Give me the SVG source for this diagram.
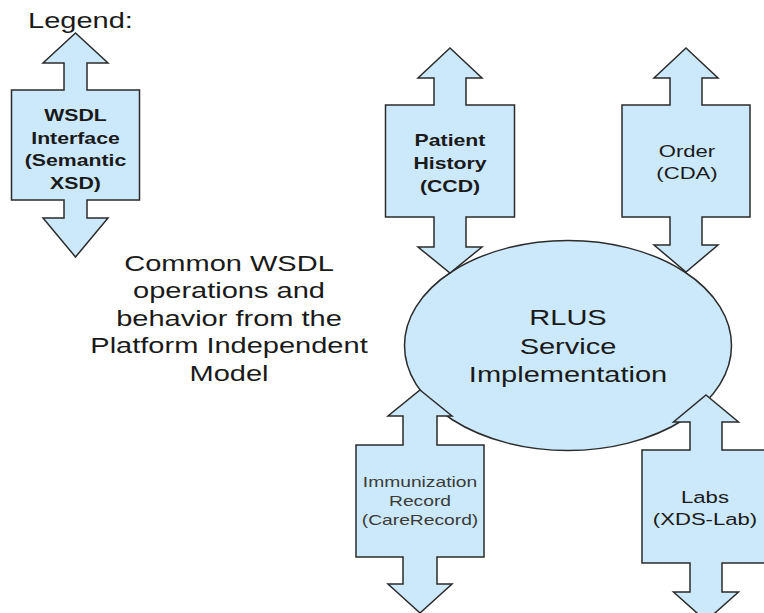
<svg xmlns="http://www.w3.org/2000/svg" width="764" height="613" viewBox="0 0 764 613">
<style>
.shape{fill:#cce9fb;stroke:#2b2b2b;stroke-width:1.5;stroke-linejoin:miter}
.big{font-family:"Liberation Sans",Arial,sans-serif;font-size:22.5px;fill:#1a1a1a;text-anchor:middle}
.lbl{font-family:"Liberation Sans",Arial,sans-serif;font-size:17px;fill:#1a1a1a;text-anchor:middle}
.bold{font-weight:bold}
.sm{font-family:"Liberation Sans",Arial,sans-serif;font-size:14.8px;fill:#3a3a3a;text-anchor:middle}
</style>
<rect width="764" height="613" fill="#ffffff"/>
<g id="legend-title" transform="translate(28,0) scale(1.29,1)"><text class="big" x="0" y="28" style="text-anchor:start">Legend:</text></g>
<g id="legend">
<path class="shape" d="M75.5,33 L108,63 L87,63 L87,90 L139.5,90 L139.5,200 L87,200 L87,218 L108,218 L75.5,257 L43,218 L64,218 L64,200 L11.5,200 L11.5,90 L64,90 L64,63 L43,63 Z"/>
<g transform="translate(75.5,0) scale(1.25,1)">
<text class="lbl bold" x="0" y="121">WSDL</text>
<text class="lbl bold" x="0" y="144">Interface</text>
<text class="lbl bold" x="0" y="166.5">(Semantic</text>
<text class="lbl bold" x="0" y="189">XSD)</text>
</g>
</g>
<g id="description" transform="translate(229,0) scale(1.29,1)">
<text class="big" x="0" y="271">Common WSDL</text>
<text class="big" x="0" y="298.5">operations and</text>
<text class="big" x="0" y="326">behavior from the</text>
<text class="big" x="0" y="353.5">Platform Independent</text>
<text class="big" x="0" y="381">Model</text>
</g>
<g id="rlus">
<ellipse class="shape" cx="568" cy="345.5" rx="163.5" ry="105"/>
<g transform="translate(568,0) scale(1.29,1)">
<text class="big" x="0" y="325">RLUS</text>
<text class="big" x="0" y="354">Service</text>
<text class="big" x="0" y="382">Implementation</text>
</g>
</g>
<g id="connectors">
<g id="patient-history">
<path class="shape" d="M450,48 L482,78 L466,78 L466,105 L514.5,105 L514.5,217 L466,217 L466,247 L482,247 L450,273 L418,247 L434,247 L434,217 L385.5,217 L385.5,105 L434,105 L434,78 L418,78 Z"/>
<g transform="translate(450,0) scale(1.25,1)">
<text class="lbl bold" x="0" y="146">Patient</text>
<text class="lbl bold" x="0" y="169">History</text>
<text class="lbl bold" x="0" y="192">(CCD)</text>
</g>
</g>
<g id="order">
<path class="shape" d="M686,48 L718,78 L702,78 L702,105 L750,105 L750,217 L702,217 L702,245 L718,245 L686,272 L654,245 L670,245 L670,217 L622,217 L622,105 L670,105 L670,78 L654,78 Z"/>
<g transform="translate(687,0) scale(1.3,1)">
<text class="lbl" x="0" y="157">Order</text>
<text class="lbl" x="0" y="179">(CDA)</text>
</g>
</g>
<g id="immunization">
<path class="shape" d="M420,390 L452,416 L437,416 L437,445 L484,445 L484,557 L437,557 L437,584 L452,584 L420,613 L388,584 L403,584 L403,557 L356,557 L356,445 L403,445 L403,416 L388,416 Z"/>
<g transform="translate(420,0) scale(1.3,1)">
<text class="sm" x="0" y="487">Immunization</text>
<text class="sm" x="0" y="506">Record</text>
<text class="sm" x="0" y="525">(CareRecord)</text>
</g>
</g>
<g id="labs">
<path class="shape" d="M706,395 L738.5,422 L722,422 L722,450 L770,450 L770,563 L722,563 L722,592 L738.5,592 L706,621 L673.5,592 L690,592 L690,563 L642,563 L642,450 L690,450 L690,422 L673.5,422 Z"/>
<g transform="translate(705,0) scale(1.3,1)">
<text class="lbl" x="0" y="503">Labs</text>
<text class="lbl" x="0" y="525">(XDS-Lab)</text>
</g>
</g>
</g>
</svg>
